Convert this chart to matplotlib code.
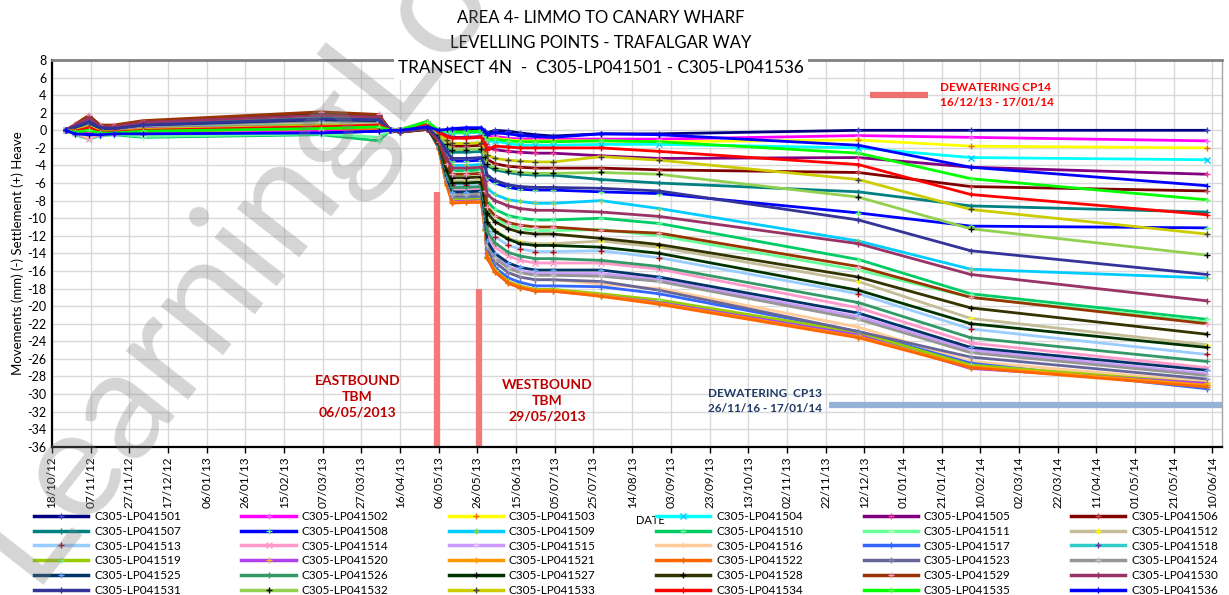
import matplotlib
matplotlib.use('Agg')
import matplotlib.pyplot as plt
import matplotlib.dates as mdates
from matplotlib.lines import Line2D
import datetime as dt

plt.rcParams['font.family'] = ['Lato', 'DejaVu Sans']

# ---------------- data ----------------
dates = ['2012-10-25', '2012-10-30', '2012-11-06', '2012-11-12', '2012-11-19', '2012-12-04',
         '2013-03-06', '2013-04-05', '2013-04-11', '2013-04-16', '2013-04-30', '2013-05-06',
         '2013-05-10', '2013-05-13', '2013-05-20', '2013-05-28', '2013-05-30', '2013-05-31',
         '2013-06-04', '2013-06-11', '2013-06-17', '2013-06-25', '2013-07-04', '2013-07-29',
         '2013-08-28', '2013-12-09', '2014-02-05', '2014-06-07']

names = ['C305-LP0415%02d' % i for i in range(1, 37)]

lp01 = [0.0, -0.3, -0.4, -0.5, -0.4, -0.3, -0.3, -0.1, 0.0, 0.0, 0.3, 0.0, -0.1, 0.1, 0.1, 0.2, -0.1, -0.3, 0.0, -0.1, -0.3, -0.5, -0.65, -0.4, -0.4, 0.0, 0.0, 0.0]
lp02 = [0.0, -0.2, -0.1, -0.3, -0.3, -0.2, 0.0, 0.2, 0.0, 0.0, 0.6, 0.0, -0.2, -0.2, -0.3, -0.2, -0.5, -0.8, -0.7, -0.9, -1.0, -1.0, -1.0, -1.0, -1.0, -0.6, -0.8, -1.2]
lp03 = [0.0, -0.1, 0.2, -0.2, -0.2, 0.0, 0.3, 0.5, 0.0, 0.0, 0.9, -0.1, -0.2, -0.3, -0.3, -0.2, -0.6, -1.0, -0.9, -1.1, -1.2, -1.2, -1.2, -1.2, -1.3, -1.1, -1.8, -2.0]
lp04 = [0.0, 0.1, 0.4, 0.0, -0.1, 0.2, 0.5, 0.4, 0.0, 0.0, 0.7, -0.1, -0.2, -0.3, -0.3, -0.2, -0.8, -1.3, -1.2, -1.5, -1.7, -1.7, -1.7, -1.6, -1.6, -2.0, -3.1, -3.35]
lp05 = [0.0, 0.2, 0.6, 0.1, 0.0, 0.3, 0.8, 0.7, 0.0, -0.1, 0.5, -0.2, -0.6, -0.8, -0.8, -0.7, -1.3, -1.9, -2.2, -2.4, -2.5, -2.6, -2.6, -2.9, -3.2, -3.1, -4.2, -5.0]
lp06 = [0.0, 0.6, 1.5, 0.5, 0.4, 0.9, 1.8, 1.6, 0.0, -0.2, 0.1, -0.5, -1.4, -1.8, -1.8, -1.7, -2.5, -3.3, -3.8, -4.1, -4.2, -4.3, -4.3, -4.3, -4.5, -4.8, -6.4, -6.9]
lp07 = [0.0, 0.3, 0.7, 0.1, 0.1, 0.4, 0.9, 0.8, 0.0, -0.1, 0.5, -0.6, -1.9, -2.5, -2.5, -2.4, -3.2, -4.0, -4.5, -4.8, -5.0, -5.1, -5.1, -5.6, -6.0, -7.0, -8.6, -9.3]
lp08 = [0.0, 0.2, 0.5, 0.0, 0.0, 0.3, 0.7, 0.6, 0.0, -0.1, 0.6, -0.9, -2.6, -3.5, -3.5, -3.4, -4.4, -5.4, -6.0, -6.5, -6.7, -6.8, -6.8, -7.0, -7.2, -9.4, -10.9, -11.1]
lp09 = [0.0, 0.1, 0.4, 0.0, -0.1, 0.2, 0.6, 0.5, 0.0, -0.1, 0.7, -1.0, -3.0, -4.0, -4.0, -3.9, -5.3, -6.6, -7.3, -7.9, -8.1, -8.3, -8.3, -8.0, -8.9, -12.6, -15.8, -16.8]
lp10 = [0.0, -0.5, -1.0, -0.6, -0.5, -0.8, -0.5, -1.2, 0.0, 0.1, 1.0, -1.2, -3.5, -4.6, -4.6, -4.5, -6.4, -8.1, -9.0, -9.7, -10.0, -10.2, -10.2, -10.0, -10.6, -14.7, -18.6, -21.5]
lp11 = [0.0, -0.4, -0.9, -0.5, -0.4, -0.7, -0.4, -0.8, 0.0, 0.1, 0.9, -1.3, -3.8, -5.0, -5.0, -4.9, -7.0, -9.0, -10.0, -10.8, -11.2, -11.4, -11.4, -11.3, -12.0, -15.9, -19.0, -21.8]
lp12 = [0.0, 0.2, 0.6, 0.1, 0.0, 0.3, 0.8, 0.7, 0.0, -0.1, 0.5, -1.5, -4.4, -5.8, -5.8, -5.7, -8.0, -10.3, -11.4, -12.3, -12.7, -12.9, -12.9, -12.6, -13.3, -17.2, -21.4, -24.4]
lp13 = [0.0, 0.1, 0.3, -0.1, -0.1, 0.2, 0.5, 0.4, 0.0, -0.1, 0.6, -1.6, -4.7, -6.2, -6.2, -6.1, -8.6, -10.9, -12.1, -13.1, -13.5, -13.8, -13.8, -13.7, -14.5, -18.6, -22.6, -25.5]
lp14 = [0.0, -0.3, -1.0, -0.4, -0.3, -0.2, 0.2, 0.3, 0.0, 0.0, 0.6, -1.7, -5.0, -6.7, -6.7, -6.6, -9.3, -12.0, -13.3, -14.3, -14.8, -15.1, -15.1, -15.1, -15.8, -20.2, -24.2, -27.0]
lp15 = [0.0, 0.0, 0.2, -0.1, -0.2, 0.1, 0.4, 0.3, 0.0, -0.1, 0.6, -1.8, -5.4, -7.2, -7.2, -7.1, -10.0, -12.9, -14.3, -15.5, -16.0, -16.3, -16.3, -16.3, -17.0, -21.2, -25.0, -27.7]
lp16 = [0.0, -0.2, -0.8, -0.3, -0.3, -0.1, 0.3, 0.2, 0.0, 0.0, 0.6, -1.9, -5.7, -7.6, -7.6, -7.5, -10.6, -13.5, -15.0, -16.2, -16.7, -17.0, -17.0, -17.5, -18.0, -22.4, -26.3, -28.6]
lp17 = [0.0, 0.1, 0.3, -0.1, -0.1, 0.2, 0.5, 0.4, 0.0, -0.1, 0.6, -2.0, -5.9, -7.8, -7.8, -7.7, -10.9, -14.0, -15.6, -16.8, -17.3, -17.7, -17.7, -17.8, -18.6, -22.9, -26.5, -29.4]
lp18 = [0.0, 0.2, 0.5, 0.0, 0.0, 0.3, 0.6, 0.5, 0.0, -0.1, 0.6, -2.0, -6.0, -8.0, -8.0, -7.9, -11.2, -14.4, -16.0, -17.3, -17.8, -18.2, -18.2, -18.7, -19.4, -23.2, -26.8, -29.0]
lp19 = [0.0, 0.1, 0.4, 0.0, -0.1, 0.2, 0.6, 0.5, 0.0, -0.1, 0.7, -2.0, -5.9, -7.9, -7.9, -7.8, -11.1, -14.3, -15.9, -17.2, -17.7, -18.1, -18.1, -18.6, -19.3, -23.0, -26.7, -28.8]
lp20 = [0.0, 0.1, 0.3, -0.1, -0.1, 0.2, 0.5, 0.4, 0.0, -0.1, 0.7, -2.0, -6.1, -8.1, -8.1, -8.0, -11.3, -14.5, -16.1, -17.4, -17.9, -18.3, -18.3, -18.8, -19.6, -23.3, -27.1, -28.8]
lp21 = [0.0, 0.0, 0.2, -0.2, -0.2, 0.1, 0.4, 0.3, 0.0, -0.1, 0.6, -2.1, -6.2, -8.2, -8.2, -8.1, -11.3, -14.4, -16.0, -17.3, -17.8, -18.2, -18.2, -18.8, -19.7, -23.5, -26.9, -29.0]
lp22 = [0.0, -0.1, 0.0, -0.3, -0.3, -0.1, 0.2, 0.1, 0.0, 0.0, 0.5, -2.1, -6.2, -8.3, -8.2, -8.2, -11.4, -14.5, -16.1, -17.4, -17.9, -18.3, -18.3, -18.9, -19.8, -23.6, -27.0, -29.2]
lp23 = [0.0, 0.4, 1.0, 0.3, 0.2, 0.6, 1.2, 1.1, 0.0, -0.1, 0.3, -1.9, -5.6, -7.5, -7.5, -7.4, -10.5, -13.5, -15.0, -16.2, -16.7, -17.0, -17.0, -17.2, -18.2, -22.9, -25.8, -28.3]
lp24 = [0.0, 0.3, 0.8, 0.2, 0.1, 0.5, 1.1, 1.0, 0.0, -0.1, 0.4, -1.8, -5.5, -7.3, -7.3, -7.2, -10.2, -13.1, -14.5, -15.7, -16.2, -16.5, -16.5, -16.6, -17.2, -21.5, -25.3, -27.9]
lp25 = [0.0, 0.3, 0.9, 0.2, 0.2, 0.6, 1.2, 1.1, 0.0, -0.1, 0.3, -1.8, -5.3, -7.0, -7.0, -6.9, -9.8, -12.6, -14.0, -15.1, -15.6, -15.9, -15.9, -15.9, -16.7, -20.8, -24.7, -27.3]
lp26 = [0.0, 0.4, 1.1, 0.3, 0.3, 0.7, 1.4, 1.3, 0.0, -0.1, 0.3, -1.6, -4.9, -6.5, -6.5, -6.4, -9.0, -11.5, -12.8, -13.9, -14.3, -14.6, -14.6, -14.8, -15.5, -19.6, -23.6, -26.3]
lp27 = [0.0, 0.6, 1.5, 0.5, 0.5, 1.0, 1.9, 1.6, 0.0, -0.2, 0.2, -1.5, -4.5, -6.0, -6.0, -5.9, -8.2, -10.4, -11.5, -12.4, -12.9, -13.1, -13.1, -13.3, -14.0, -18.2, -22.0, -24.7]
lp28 = [0.0, 0.6, 1.6, 0.5, 0.5, 1.0, 1.9, 1.7, 0.0, -0.2, 0.1, -1.4, -4.0, -5.4, -5.4, -5.3, -7.4, -9.4, -10.4, -11.2, -11.6, -11.8, -11.8, -12.3, -13.0, -16.7, -20.2, -23.2]
lp29 = [0.0, 0.7, 1.7, 0.6, 0.6, 1.1, 2.1, 1.8, 0.0, -0.2, 0.2, -1.3, -3.8, -5.0, -5.0, -4.9, -6.9, -8.7, -9.7, -10.5, -10.8, -11.0, -11.0, -11.4, -11.7, -15.5, -19.0, -22.0]
lp30 = [0.0, 0.6, 1.4, 0.4, 0.4, 0.9, 1.7, 1.5, 0.0, -0.2, 0.2, -1.1, -3.2, -4.3, -4.3, -4.2, -5.8, -7.3, -8.0, -8.6, -8.9, -9.1, -9.1, -9.3, -9.8, -12.9, -16.4, -19.4]
lp31 = [0.0, 0.4, 1.0, 0.3, 0.2, 0.6, 1.3, 1.2, 0.0, -0.1, 0.3, -0.8, -2.4, -3.2, -3.2, -3.1, -4.1, -5.1, -5.7, -6.2, -6.4, -6.5, -6.5, -6.6, -6.9, -10.2, -13.7, -16.4]
lp32 = [0.0, -0.1, 0.2, -0.2, -0.3, 0.0, 0.3, 0.4, 0.0, 0.0, 1.0, -0.5, -1.6, -2.2, -2.2, -2.1, -3.0, -3.8, -4.3, -4.6, -4.8, -4.9, -4.9, -4.8, -5.0, -7.6, -11.2, -14.2]
lp33 = [0.0, 0.0, 0.4, -0.1, -0.2, 0.1, 0.5, 0.6, 0.0, 0.0, 0.9, -0.4, -1.1, -1.5, -1.5, -1.4, -2.1, -2.8, -3.2, -3.4, -3.5, -3.6, -3.6, -3.0, -3.4, -5.6, -9.0, -11.8]
lp34 = [0.0, -0.1, 0.3, -0.2, -0.2, 0.0, 0.4, 0.6, 0.0, 0.0, 0.8, -0.2, -0.7, -0.9, -0.9, -0.8, -1.6, -2.2, -1.8, -1.9, -2.0, -2.0, -2.0, -2.0, -2.4, -3.9, -7.3, -9.6]
lp35 = [0.0, -0.2, 0.0, -0.3, -0.3, -0.1, 0.2, 0.4, 0.0, 0.0, 1.0, 0.0, -0.1, -0.2, -0.2, -0.1, -0.6, -1.1, -1.0, -1.2, -1.3, -1.3, -1.3, -1.2, -1.3, -2.6, -5.5, -7.9]
lp36 = [0.0, -0.4, -0.5, -0.5, -0.4, -0.4, -0.3, -0.1, 0.0, 0.0, 0.4, 0.0, 0.1, 0.2, 0.3, 0.3, -0.2, -0.5, -0.3, -0.4, -0.6, -0.7, -0.8, -0.4, -0.5, -1.7, -4.2, -6.3]

series = [lp01, lp02, lp03, lp04, lp05, lp06, lp07, lp08, lp09, lp10, lp11, lp12,
          lp13, lp14, lp15, lp16, lp17, lp18, lp19, lp20, lp21, lp22, lp23, lp24,
          lp25, lp26, lp27, lp28, lp29, lp30, lp31, lp32, lp33, lp34, lp35, lp36]

line_colors = ['#000080', '#FF00FF', '#FFFF00', '#00FFFF', '#800080', '#800000',
               '#008080', '#0000FF', '#00CCFF', '#00CC66', '#66FF99', '#C4BD97',
               '#99CCFF', '#FF99CC', '#CC99FF', '#FFCC99', '#3366FF', '#33CCCC',
               '#99CC00', '#B040F0', '#FF9900', '#FF6600', '#666699', '#969696',
               '#003366', '#339966', '#003300', '#333300', '#993300', '#993366',
               '#333399', '#92D050', '#CCCC00', '#FF0000', '#00FF00', '#0000FF']
marker_colors = ['#3F48CC', '#FF66FF', '#E46C0A', '#00CCFF', '#FF3399', '#C0504D',
                 '#008080', '#66FF66', '#92D050', '#66FF99', '#CCFFCC', '#FFFF00',
                 '#C00000', '#FF99CC', '#E6CCFF', '#FFCC99', '#3366FF', '#7030A0',
                 '#66FF99', '#FFC000', '#FF9900', '#E46C0A', '#8080B0', '#C0C0C0',
                 '#66A3FF', '#339966', '#000000', '#000000', '#FF99CC', '#993366',
                 '#333399', '#000000', '#404040', '#FF0000', '#66FF66', '#0000FF']
markers = ['+', '+', '+', 'x', '+', '+', '+', '+', '+', '+', '+', '+',
           '+', 'x', '+', '+', '+', '+', '+', '+', '+', '+', '+', '+',
           '+', '+', '+', '+', '+', '+', '+', '+', '+', '+', '+', '+']

yticks = list(range(-36, 9, 2))

# ---------------- figure ----------------
W, H = 1229, 595
fig = plt.figure(figsize=(W / 100, H / 100), dpi=100)
ax = fig.add_axes([52 / W, 1 - 446.7 / H, (1222 - 52) / W, (446.7 - 60) / H])

xd = [mdates.date2num(dt.date.fromisoformat(d)) for d in dates]
base = mdates.date2num(dt.date(2012, 10, 18))

for vals, lc, mc, mk in zip(series, line_colors, marker_colors, markers):
    ax.plot(xd, vals, color=lc, lw=2.0, marker=mk, ms=5, mec=mc, mew=1.0, zorder=3)

ax.set_xlim(base, base + 605)
ax.set_ylim(-36, 8)
ax.set_yticks(yticks)
ax.set_yticklabels([str(v) for v in yticks], fontsize=9)
xt = [base + 20 * k for k in range(31)]
ax.set_xticks(xt)
ax.set_xticklabels([mdates.num2date(v).strftime('%d/%m/%y') for v in xt],
                   rotation=90, fontsize=8.5)
ax.tick_params(axis='x', length=4, width=1, color='black', pad=3)
ax.tick_params(axis='y', length=0, pad=4)
ax.grid(True, color='#D9D9D9', lw=1.0, zorder=0)
ax.set_axisbelow(True)
for s in ['left', 'bottom']:
    ax.spines[s].set_color('black')
    ax.spines[s].set_linewidth(1.6)
ax.spines['top'].set_color('#808080')
ax.spines['top'].set_linewidth(2.0)
ax.spines['right'].set_color('#A6A6A6')
ax.spines['right'].set_linewidth(1.0)

ax.set_ylabel('Movements (mm) (-) Settlement (+) Heave', fontsize=9.5, labelpad=2)

# TBM bars
d_east = mdates.date2num(dt.date(2013, 5, 5))
d_west = mdates.date2num(dt.date(2013, 5, 27))
ax.plot([d_east, d_east], [-36, -7], color='#F47A7A', lw=4.5, solid_capstyle='butt', zorder=2)
ax.plot([d_west, d_west], [-36, -18], color='#F47A7A', lw=4.5, solid_capstyle='butt', zorder=2)

ax.text(mdates.date2num(dt.date(2013, 3, 25)), -30.3, 'EASTBOUND\nTBM\n06/05/2013',
        color='#C00000', fontsize=10, fontweight='bold', ha='center', va='center',
        linespacing=1.35, zorder=4)
ax.text(mdates.date2num(dt.date(2013, 7, 1)), -30.8, 'WESTBOUND\nTBM\n29/05/2013',
        color='#C00000', fontsize=10, fontweight='bold', ha='center', va='center',
        linespacing=1.35, zorder=4)

# dewatering CP14
ax.plot([mdates.date2num(dt.date(2013, 12, 15)), mdates.date2num(dt.date(2014, 1, 14))],
        [4.0, 4.0], color='#F07070', lw=4.5, solid_capstyle='butt', zorder=2)
ax.text(mdates.date2num(dt.date(2014, 1, 20)), 4.0, 'DEWATERING CP14\n16/12/13 - 17/01/14',
        color='#FF0000', fontsize=8.5, fontweight='bold', ha='left', va='center',
        linespacing=1.45, zorder=4)

# dewatering CP13
ax.plot([mdates.date2num(dt.date(2013, 11, 24)), base + 610],
        [-31.25, -31.25], color='#95B3D7', lw=4.5, solid_capstyle='butt', zorder=2,
        clip_on=True)
ax.text(mdates.date2num(dt.date(2013, 11, 20)), -30.8, 'DEWATERING  CP13\n26/11/16 - 17/01/14',
        color='#1F3864', fontsize=8.5, fontweight='bold', ha='right', va='center',
        linespacing=1.45, zorder=4)

# titles
fig.text(601 / W, 1 - 18 / H, 'AREA 4- LIMMO TO CANARY WHARF', ha='center', va='center', fontsize=12)
fig.text(601 / W, 1 - 43 / H, 'LEVELLING POINTS - TRAFALGAR WAY', ha='center', va='center', fontsize=12)
fig.text(601 / W, 1 - 68 / H, 'TRANSECT 4N  -  C305-LP041501 - C305-LP041536',
         ha='center', va='center', fontsize=12.3,
         bbox=dict(boxstyle='square,pad=0.25', fc='white', ec='none'))

# DATE label
fig.text(650 / W, 1 - 521 / H, 'DATE', ha='center', va='center', fontsize=8)

# legend (row-major order with 6 columns)
handles = [Line2D([], [], color=lc, lw=2.5, marker=mk, ms=5, mec=mc, mew=1.0)
           for lc, mc, mk in zip(line_colors, marker_colors, markers)]
order = [r * 6 + c for c in range(6) for r in range(6)]
fig.legend([handles[i] for i in order], [names[i] for i in order], ncol=6,
           loc='upper left', bbox_to_anchor=(34 / W, 0, 1184 / W, 1 - 511 / H),
           mode='expand', frameon=False, fontsize=8.5, handlelength=4.6,
           handletextpad=0.5, labelspacing=0.32, borderaxespad=0, borderpad=0)

# watermark
fig.text(30 / W, 1 - 585 / H, 'LearningLovers', fontsize=112, color='#808080', alpha=0.33,
         rotation=52, rotation_mode='anchor', ha='left', va='baseline', zorder=10)

fig.savefig('out.png', dpi=100)
